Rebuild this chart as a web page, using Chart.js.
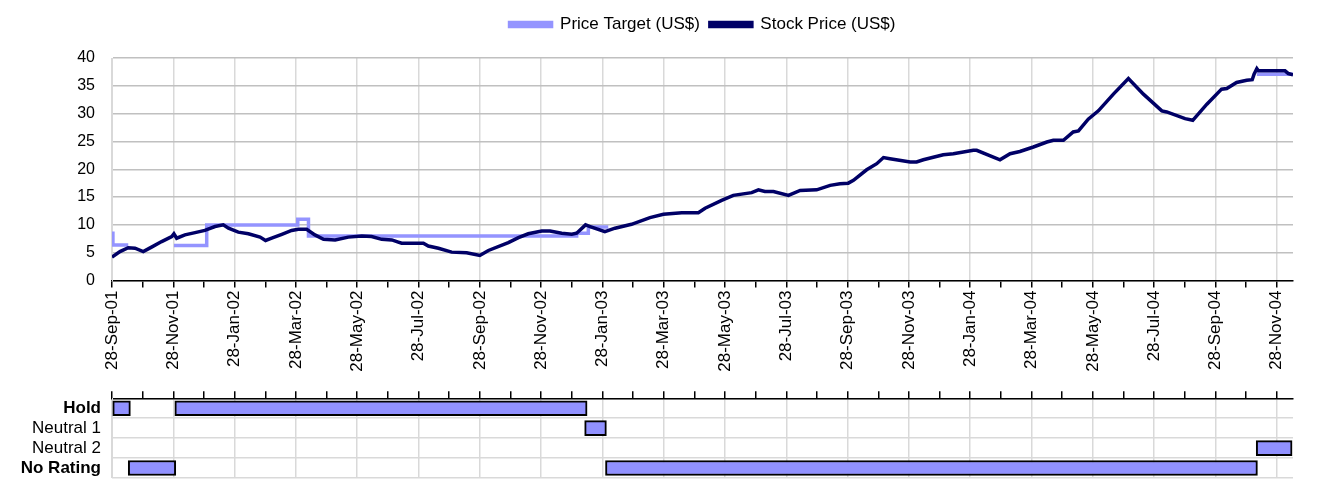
<!DOCTYPE html>
<html>
<head>
<meta charset="utf-8">
<script src="https://cdn.jsdelivr.net/npm/chart.js@4.4.1/dist/chart.umd.min.js"></script>
<style>
  body { margin: 0; background: #fff; }
  #wrap { position: relative; width: 1343px; height: 481px; }
  #priceBox { position: absolute; left: 0; top: 0; width: 1343px; height: 392px; }
  #ratingBox { position: absolute; left: 0; top: 390px; width: 1343px; height: 91px; }
</style>
</head>
<body>
<div id="wrap">
  <div id="priceBox"><canvas id="priceChart"></canvas></div>
  <div id="ratingBox"><canvas id="ratingChart"></canvas></div>
</div>
<script>
// x values are months since 28-Sep-01
const tickLabels = ['28-Sep-01', '28-Nov-01', '28-Jan-02', '28-Mar-02', '28-May-02', '28-Jul-02',
  '28-Sep-02', '28-Nov-02', '28-Jan-03', '28-Mar-03', '28-May-03', '28-Jul-03', '28-Sep-03',
  '28-Nov-03', '28-Jan-04', '28-Mar-04', '28-May-04', '28-Jul-04', '28-Sep-04', '28-Nov-04'];

const stockT = [0, 0.26, 0.53, 0.75, 1.02, 1.29, 1.62, 1.95, 2.02, 2.11, 2.38, 2.71, 3.03, 3.36, 3.63,
  3.8, 4.12, 4.45, 4.83, 5.01, 5.21, 5.54, 5.86, 6.08, 6.35, 6.62, 6.9, 7.28, 7.71, 8.15, 8.47, 8.8,
  9.13, 9.34, 9.45, 10.16, 10.32, 10.65, 11.08, 11.57, 12.0, 12.28, 12.93, 13.26, 13.58, 14.02, 14.29,
  14.67, 15.0, 15.16, 15.45, 15.6, 16.08, 16.41, 16.95, 17.55, 17.99, 18.59, 19.13, 19.35, 19.89,
  20.27, 20.87, 21.09, 21.3, 21.58, 22.07, 22.45, 22.99, 23.43, 23.75, 24.02, 24.19, 24.62, 24.95,
  25.17, 25.38, 26.04, 26.25, 26.47, 27.12, 27.45, 28.1, 28.21, 28.97, 29.3, 29.62, 30.06, 30.5,
  30.71, 31.04, 31.36, 31.53, 31.85, 32.18, 32.67, 33.16, 33.65, 34.25, 34.41, 35.01, 35.26, 35.72,
  36.2, 36.37, 36.69, 37.02, 37.2, 37.26, 37.35, 37.4, 38.27, 38.38, 38.53];
const stockPrice = [4.2, 5.2, 5.9, 5.8, 5.2, 6.0, 7.0, 7.9, 8.4, 7.6, 8.2, 8.6, 9.0, 9.7, 10.0,
  9.4, 8.7, 8.4, 7.8, 7.2, 7.6, 8.3, 9.0, 9.2, 9.2, 8.2, 7.4, 7.3, 7.8, 8.0, 7.9, 7.4,
  7.3, 6.9, 6.7, 6.7, 6.2, 5.8, 5.1, 5.0, 4.5, 5.4, 6.8, 7.7, 8.4, 8.9, 8.9,
  8.5, 8.3, 8.5, 10.0, 9.7, 8.8, 9.4, 10.1, 11.3, 11.9, 12.2, 12.2, 13.0, 14.4,
  15.3, 15.8, 16.3, 16.0, 16.0, 15.3, 16.2, 16.3, 17.1, 17.4, 17.5, 18.0, 19.9, 21.0,
  22.1, 21.9, 21.3, 21.3, 21.7, 22.6, 22.8, 23.4, 23.4, 21.7, 22.8, 23.2, 24.0, 24.9,
  25.2, 25.2, 26.7, 26.9, 29.0, 30.5, 33.5, 36.3, 33.5, 30.5, 30.3, 29.1, 28.8, 31.7,
  34.4, 34.5, 35.6, 36.0, 36.1, 37.1, 38.1, 37.7, 37.7, 37.2, 37.0];

// null = no target (no rating)
const targetT = [0, 0.03, 0.53, 0.54, 2.02, 3.09, 6.06, 6.41, 15.16, 15.54, 16.19, 16.2, 37.35, 38.53];
const targetPrice = [8.5, 6.4, 6.4, null, 6.3, 10.0, 11.0, 8.0, 8.5, 9.6, 9.6, null, 37.1, 37.1];

const ratingNames = ['Hold', 'Neutral 1', 'Neutral 2', 'No Rating'];
const holdPeriods = [[0, 0.6], [2.05, 15.5]];
const neutral1Periods = [[15.42, 16.13]];
const neutral2Periods = [[37.33, 38.5]];
const noRatingPeriods = [[0.53, 2.08], [16.1, 37.37]];

const X_MAX = 38.53;

Chart.defaults.font.family = "'Liberation Sans', Arial, sans-serif";
Chart.defaults.font.size = 16;
Chart.defaults.color = '#000';

function monthTicks(scale) {
  const t = [];
  for (let m = 0; m <= 38; m++) t.push({ value: m });
  scale.ticks = t;
}
function gridColor(c) {
  return c.tick && c.tick.value % 2 === 0 ? '#d9d9d9' : 'rgba(0,0,0,0)';
}

// legend: extra space under it, centred over the plot
const legendAdjust = {
  id: 'legendAdjust',
  afterInit(chart) {
    const lg = chart.legend;
    const fit = lg.fit;
    lg.fit = function () { fit.call(this); this.height += 15; };
  },
  afterLayout(chart) {
    chart.legend.left += 56;
    chart.legend.right += 56;
  }
};

// price chart
new Chart(document.getElementById('priceChart'), {
  type: 'line',
  data: {
    datasets: [{
      label: 'Price Target (US$)',
      data: targetT.map((t, i) => ({ x: t, y: targetPrice[i] })),
      borderColor: '#9494ff',
      backgroundColor: '#9494ff',
      borderWidth: 3.5,
      stepped: 'before',
      spanGaps: false,
      pointRadius: 0,
      order: 1
    }, {
      label: 'Stock Price (US$)',
      data: stockT.map((t, i) => ({ x: t, y: stockPrice[i] })),
      borderColor: '#000066',
      backgroundColor: '#000066',
      borderWidth: 3.5,
      pointRadius: 0,
      tension: 0,
      order: 0
    }]
  },
  plugins: [legendAdjust],
  options: {
    responsive: true,
    maintainAspectRatio: false,
    animation: false,
    layout: { padding: { left: 0, right: 50, top: 6, bottom: 0 } },
    plugins: {
      legend: {
        labels: {
          boxWidth: 42,
          boxHeight: 4,
          padding: 10,
          font: { size: 17 },
          sort: (a, b) => a.datasetIndex - b.datasetIndex
        }
      },
      tooltip: { enabled: false }
    },
    scales: {
      x: {
        type: 'linear',
        min: 0,
        max: X_MAX,
        afterBuildTicks: monthTicks,
        afterFit: s => { s.height = 392 - 280.5; },
        grid: { color: gridColor, tickColor: '#000', tickLength: 7, lineWidth: 1.5 },
        border: { color: '#000', width: 1.5 },
        ticks: {
          autoSkip: false,
          maxRotation: 90,
          minRotation: 90,
          padding: 3,
          font: { size: 17 },
          callback: v => (v % 2 === 0 ? tickLabels[v / 2] : '')
        }
      },
      y: {
        min: 0,
        max: 40,
        afterFit: s => { s.width = 112; s.paddingTop = 0; s.paddingBottom = 0; },
        ticks: { stepSize: 5, padding: 17 },
        grid: { color: '#c0c0c0', lineWidth: 1.5, drawTicks: false },
        border: { color: '#d9d9d9' }
      }
    }
  }
});

// rating chart
const periodSets = [holdPeriods, neutral1Periods, neutral2Periods, noRatingPeriods];
const ratingDatasets = [];
periodSets.forEach((periods, k) => {
  periods.forEach(p => {
    ratingDatasets.push({
      data: [{ y: ratingNames[k], x: p }],
      backgroundColor: '#9191ff',
      borderColor: '#000',
      borderWidth: 2,
      borderSkipped: false,
      barThickness: 15,
      grouped: false
    });
  });
});

new Chart(document.getElementById('ratingChart'), {
  type: 'bar',
  data: { labels: ratingNames, datasets: ratingDatasets },
  options: {
    indexAxis: 'y',
    responsive: true,
    maintainAspectRatio: false,
    animation: false,
    layout: { padding: { left: 0, right: 50, top: 0, bottom: 3 } },
    plugins: { legend: { display: false }, tooltip: { enabled: false } },
    scales: {
      x: {
        type: 'linear',
        position: 'top',
        min: 0,
        max: X_MAX,
        afterBuildTicks: monthTicks,
        afterFit: s => { s.height = 8.3; },
        ticks: { display: false },
        grid: { color: gridColor, tickColor: '#000', tickLength: 7, lineWidth: 1.5 },
        border: { color: '#000', width: 1.5 }
      },
      y: {
        type: 'category',
        offset: true,
        afterFit: s => { s.width = 112; s.paddingTop = 0; s.paddingBottom = 0; },
        grid: { offset: true, color: '#d9d9d9', lineWidth: 1.5, drawTicks: false },
        border: { color: '#d9d9d9' },
        ticks: {
          autoSkip: false,
          padding: 11,
          font: c => ({ size: 17, weight: (c.index === 0 || c.index === 3) ? 'bold' : 'normal' })
        }
      }
    }
  }
});
</script>
</body>
</html>
